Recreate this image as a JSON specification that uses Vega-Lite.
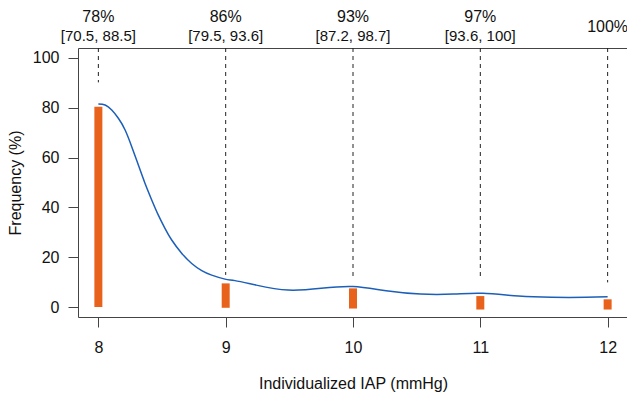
{
  "$schema": "https://vega.github.io/schema/vega-lite/v6.json",
  "width": 550,
  "height": 269,
  "autosize": {"type": "none"},
  "padding": {"left": 78, "top": 48, "right": 0, "bottom": 79},
  "background": "white",
  "config": {
    "font": "Liberation Sans",
    "view": {"stroke": "#444", "strokeWidth": 1},
    "axis": {
      "grid": false,
      "domain": false,
      "tickColor": "#444",
      "tickSize": 10,
      "labelFont": "Liberation Sans",
      "labelFontSize": 16,
      "labelColor": "#111",
      "titleFont": "Liberation Sans",
      "titleFontSize": 16,
      "titleFontWeight": "normal",
      "titleColor": "#111"
    }
  },
  "datasets": {
    "bars": [
      {"iap": 8, "freq": 80.4, "freq_low": 0, "line_top": 104, "line_end": 90.2, "pct": "78%", "ci": "[70.5, 88.5]"},
      {"iap": 9, "freq": 9.5, "freq_low": -0.3, "line_top": 104, "line_end": 12.9, "pct": "86%", "ci": "[79.5, 93.6]"},
      {"iap": 10, "freq": 7.5, "freq_low": -0.6, "line_top": 104, "line_end": 12.1, "pct": "93%", "ci": "[87.2, 98.7]"},
      {"iap": 11, "freq": 4.4, "freq_low": -1, "line_top": 104, "line_end": 10.9, "pct": "97%", "ci": "[93.6, 100]"},
      {"iap": 12, "freq": 3.1, "freq_low": -1, "line_top": 104, "line_end": 9.9, "pct": "100%", "ci": null}
    ],
    "smooth": [
      {"x": 8.0, "y": 81.5},
      {"x": 8.053, "y": 81.1},
      {"x": 8.105, "y": 79.1},
      {"x": 8.157, "y": 75.8},
      {"x": 8.21, "y": 71.1},
      {"x": 8.262, "y": 64.4},
      {"x": 8.314, "y": 57.0},
      {"x": 8.366, "y": 49.7},
      {"x": 8.419, "y": 43.0},
      {"x": 8.471, "y": 36.9},
      {"x": 8.523, "y": 31.6},
      {"x": 8.576, "y": 26.9},
      {"x": 8.654, "y": 21.6},
      {"x": 8.733, "y": 17.5},
      {"x": 8.812, "y": 14.6},
      {"x": 8.89, "y": 12.8},
      {"x": 8.995, "y": 11.2},
      {"x": 9.073, "y": 10.6},
      {"x": 9.24, "y": 8.8},
      {"x": 9.49, "y": 6.8},
      {"x": 9.75, "y": 7.5},
      {"x": 10.0, "y": 8.2},
      {"x": 10.26, "y": 6.5},
      {"x": 10.53, "y": 5.2},
      {"x": 10.79, "y": 5.2},
      {"x": 11.02, "y": 5.5},
      {"x": 11.3, "y": 4.4},
      {"x": 11.56, "y": 3.9},
      {"x": 11.83, "y": 3.9},
      {"x": 12.0, "y": 4.1}
    ]
  },
  "layer": [
    {
      "data": {"name": "bars"},
      "mark": {"type": "rule", "strokeDash": [4, 4], "color": "#222", "strokeWidth": 1},
      "encoding": {
        "x": {"field": "iap", "type": "quantitative"},
        "y": {"field": "line_top", "type": "quantitative"},
        "y2": {"field": "line_end"}
      }
    },
    {
      "data": {"name": "bars"},
      "mark": {"type": "bar", "size": 8, "color": "#e8621c"},
      "encoding": {
        "x": {
          "field": "iap", "type": "quantitative",
          "scale": {"domain": [7.84, 12.16], "nice": false, "zero": false, "padding": 0},
          "axis": {"values": [8, 9, 10, 11, 12], "format": "d", "title": "Individualized IAP (mmHg)", "labelPadding": 12, "titlePadding": 20}
        },
        "y": {
          "field": "freq", "type": "quantitative",
          "scale": {"domain": [-4, 104], "nice": false, "zero": false, "padding": 0},
          "axis": {"values": [0, 20, 40, 60, 80, 100], "title": "Frequency (%)", "labelPadding": 9, "titlePadding": 9}
        },
        "y2": {"field": "freq_low"}
      }
    },
    {
      "data": {"name": "smooth"},
      "mark": {"type": "line", "interpolate": "natural", "color": "#1c5fb8", "strokeWidth": 1.5},
      "encoding": {
        "x": {"field": "x", "type": "quantitative"},
        "y": {"field": "y", "type": "quantitative"}
      }
    },
    {
      "data": {"name": "bars"},
      "transform": [{"filter": "datum.ci != null"}],
      "mark": {"type": "text", "fontSize": 16, "baseline": "alphabetic", "align": "center", "color": "#111", "font": "Liberation Sans"},
      "encoding": {
        "x": {"field": "iap", "type": "quantitative"},
        "y": {"datum": 114.6, "type": "quantitative"},
        "text": {"field": "pct"}
      }
    },
    {
      "data": {"name": "bars"},
      "transform": [{"filter": "datum.ci != null"}],
      "mark": {"type": "text", "fontSize": 15, "baseline": "alphabetic", "align": "center", "color": "#111", "font": "Liberation Sans"},
      "encoding": {
        "x": {"field": "iap", "type": "quantitative"},
        "y": {"datum": 107.0, "type": "quantitative"},
        "text": {"field": "ci"}
      }
    },
    {
      "data": {"name": "bars"},
      "transform": [{"filter": "datum.ci == null"}],
      "mark": {"type": "text", "fontSize": 16, "baseline": "alphabetic", "align": "center", "color": "#111", "font": "Liberation Sans"},
      "encoding": {
        "x": {"field": "iap", "type": "quantitative"},
        "y": {"datum": 110.5, "type": "quantitative"},
        "text": {"field": "pct"}
      }
    }
  ]
}
